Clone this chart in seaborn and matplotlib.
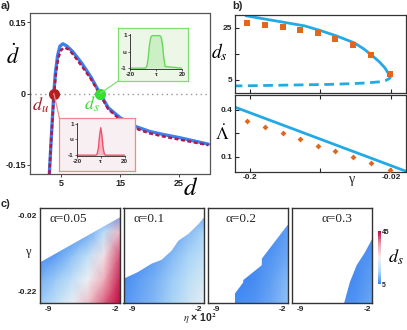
import numpy as np
import matplotlib
matplotlib.use("Agg")
import matplotlib.pyplot as plt
import seaborn as sns
from matplotlib.colors import LinearSegmentedColormap, Normalize
from matplotlib.patches import ConnectionPatch

# ---- panel a: phase line d vs d-dot
d_full = [3.0, 3.3, 3.55, 3.76, 4.0, 4.4, 4.8, 5.3, 6.0, 7.0, 8.5, 10.0, 11.6,
          13.0, 15.0, 17.5, 20.0, 22.5, 25.0, 27.5, 30.0]
dd_full = [-0.17, -0.10, -0.045, 0.0, 0.04, 0.08, 0.100, 0.105, 0.100, 0.088,
           0.064, 0.036, 0.0, -0.030, -0.051, -0.069, -0.080, -0.087, -0.093,
           -0.100, -0.107]
d_approx = [3.0, 3.3, 3.6, 3.8, 4.1, 4.5, 5.0, 5.6, 6.3, 7.2, 8.5, 10.0, 11.5,
            13.0, 15.0, 17.5, 20.0, 22.5, 25.0, 27.5, 30.0]
dd_approx = [-0.17, -0.10, -0.04, 0.0, 0.04, 0.075, 0.092, 0.097, 0.093, 0.080,
             0.058, 0.032, 0.0, -0.033, -0.055, -0.073, -0.084, -0.091, -0.097,
             -0.103, -0.109]
d_u, d_s = 3.76, 11.6

# insets: pulse profiles u(tau)
tau_s = [-20, -8, -7, -6, -5, -4, -3, 3, 4, 5, 6, 7, 20]
u_s = [-1, -1, -0.9, -0.4, 0.4, 0.85, 0.95, 0.95, 0.85, 0.4, -0.4, -0.9, -1]
tau_u = [-20, -4, -3, -2, -1, 0, 1, 2, 3, 4, 20]
u_u = [-1, -1, -0.92, -0.55, 0.25, 0.75, 0.25, -0.55, -0.92, -1, -1]

# ---- panel b
gam_up = [-0.205, -0.18, -0.155, -0.13, -0.11, -0.09, -0.067, -0.055, -0.045,
          -0.035, -0.028, -0.024, -0.021]
ds_up = [29.7, 28.4, 27.1, 25.8, 24.0, 22.0, 19.3, 17.0, 14.6, 12.0, 9.7, 7.8, 6.0]
gam_low = [-0.222, -0.18, -0.14, -0.10, -0.07, -0.05, -0.035, -0.027, -0.023, -0.021]
ds_low = [2.7, 2.9, 3.1, 3.3, 3.6, 3.9, 4.3, 4.8, 5.4, 6.0]
gam_sim = [-0.204, -0.181, -0.158, -0.136, -0.113, -0.091, -0.068, -0.045, -0.022]
ds_sim = [27.0, 26.3, 25.4, 24.2, 23.0, 20.9, 18.3, 14.5, 7.3]
lam_sim = [0.329, 0.293, 0.250, 0.214, 0.171, 0.135, 0.096, 0.057, 0.016]
gam_lam = [-0.22, 0.0]
lam_lin = [0.42, 0.005]

# ---- panel c: d_s over (eta*10^2, gamma) for four alpha values
alphas = ["α=0.05", "α=0.1", "α=0.2", "α=0.3"]
eta_grid = [-9.9, -8.22, -6.54, -4.86, -3.18, -1.5]
gam_grid = [-0.25, -0.1875, -0.125, -0.0625, 0.0]
ds_a005 = [[13, 17, 23, 31, 39, 46],
           [10, 13, 17, 24, 33, 43],
           [6, 8, 12, 17, 27, 40],
           [5, 5, 6, 9, 16, 32],
           [5, 5, 5, 5, 5, 6]]
ds_a01 = [[7, 9, 11, 14, 18, 23],
          [6, 8, 10, 13, 16, 20],
          [5, 6, 8, 11, 14, 17],
          [5, 5, 6, 8, 11, 14],
          [5, 5, 5, 5, 6, 8]]
ds_a02 = [[5, 5, 6, 7, 9, 12],
          [5, 5, 5, 6, 8, 11],
          [5, 5, 5, 6, 7, 9],
          [5, 5, 5, 5, 6, 8],
          [5, 5, 5, 5, 5, 6]]
ds_a03 = [[5, 5, 5, 6, 7, 9],
          [5, 5, 5, 5, 6, 8],
          [5, 5, 5, 5, 6, 7],
          [5, 5, 5, 5, 5, 6],
          [5, 5, 5, 5, 5, 5]]
# existence boundary (white above)
bnd_eta = [[-9.9, -1.5],
           [-9.9, -8.44, -7.0, -5.96, -4.9, -4.19, -3.13, -2.06, -1.5],
           [-9.9, -7.07, -7.07, -6.2, -6.2, -4.25, -4.25, -1.55, -1.5],
           [-9.9, -4.47, -3.84, -3.13, -2.25, -1.5]]
bnd_gam = [[-0.141, -0.023],
           [-0.184, -0.167, -0.145, -0.135, -0.111, -0.085, -0.067, -0.041, -0.024],
           [-0.25, -0.25, -0.223, -0.194, -0.188, -0.149, -0.132, -0.044, -0.044],
           [-0.25, -0.25, -0.193, -0.149, -0.115, -0.08]]

sns.set_theme(style="ticks")
plt.rcParams["font.family"] = ["Liberation Sans", "DejaVu Sans"]
plt.rcParams["mathtext.fontset"] = "stix"

W, H = 407, 330
fig = plt.figure(figsize=(W / 100, H / 100), dpi=100)


def box(x0, y0, x1, y1):
    return [x0 / W, 1 - y1 / H, (x1 - x0) / W, (y1 - y0) / H]


def fx(x):
    return x / W


def fy(y):
    return 1 - y / H


def mtext(x, y, s, size, color="black"):
    fig.text(fx(x), fy(y), s, fontsize=size, color=color, ha="center", va="center")


def bold_ticks(a):
    for t in a.get_xticklabels() + a.get_yticklabels():
        t.set_fontweight("bold")


BLUE = "#3a80ee"
CRIM = "#b0194a"
SKY = "#23aae6"
ORANGE = "#e0681c"

# ---------------- panel a
ax = fig.add_axes(box(30.5, 13, 209.5, 174))
ax.axhline(0, color="#999999", lw=1.0, ls=(0, (1, 2.5)))
sns.lineplot(x=d_full, y=dd_full, ax=ax, color=BLUE, lw=2.4, sort=False, estimator=None)
sns.lineplot(x=d_approx, y=dd_approx, ax=ax, color=CRIM, lw=1.8, sort=False,
             estimator=None, linestyle=(0, (1.6, 1.0)))
ax.plot([d_u], [0], "o", color="#b3201f", ms=7, zorder=5)
ax.plot([d_s], [0], "o", color="#33e033", ms=7, zorder=5)
ax.set_xlim(-0.2, 30.2)
ax.set_ylim(-0.17, 0.17)
ax.set_xticks([5, 15, 25])
ax.set_yticks([-0.15, 0, 0.15])
ax.set_yticklabels(["-0.15", "0", "0.15"])
ax.tick_params(labelsize=6.5, length=2, width=0.6, pad=1.5, colors="#222222")
bold_ticks(ax)
for s in ax.spines.values():
    s.set_color("#555555")
    s.set_linewidth(0.9)
mtext(13, 57, r"$\dot{d}$", 16)
mtext(191, 188, r"$d$", 18)
mtext(40, 105, r"$d_u$", 13, "#a31f25")
mtext(92, 104, r"$d_s$", 13, "#3ddc3a")
fig.text(0.002, 0.998, "a)", fontsize=8, fontweight="bold", ha="left", va="top")


def inset(bx, ix, bg, edge, line, fill, tau, u):
    b = fig.add_axes(box(*bx))
    b.set_facecolor(bg)
    b.set_xticks([])
    b.set_yticks([])
    for s in b.spines.values():
        s.set_color(edge)
        s.set_linewidth(0.9)
    a = fig.add_axes(box(*ix))
    a.patch.set_alpha(0)
    a.plot(tau, u, color=line, lw=1.0)
    a.fill_between(tau, u, -1, color=fill, alpha=0.6, lw=0)
    a.set_xlim(-20, 20)
    a.set_ylim(-1.02, 1.05)
    a.set_xticks([-20, 0, 20])
    a.set_xticklabels(["-20", "τ", "20"])
    a.set_yticks([-1, 0, 1])
    a.set_yticklabels(["-1", "u", "1"])
    a.tick_params(labelsize=4.5, length=1.5, width=0.5, pad=0.8)
    bold_ticks(a)
    for s in ["top", "right"]:
        a.spines[s].set_visible(False)
    for s in ["left", "bottom"]:
        a.spines[s].set_linewidth(0.6)
        a.spines[s].set_color("#222222")
    return b


inset((118, 28, 188, 81), (130, 34, 182, 68.5), "#ecf7e8", "#80dc70", "#66d85a",
      "#b8ebb0", tau_s, u_s)
inset((59, 118, 134.5, 170.5), (77, 123, 124.5, 155.5), "#f8eff2", "#f08890",
      "#f2506a", "#f490a8", tau_u, u_u)
for (px, py), dval, col in [((118.3, 81), d_s, "#80dc70"), ((59.5, 118.3), d_u, "#f08890")]:
    con = ConnectionPatch(xyA=(dval, 0), coordsA=ax.transData,
                          xyB=(fx(px), fy(py)), coordsB=fig.transFigure,
                          color=col, lw=0.9, zorder=1)
    fig.add_artist(con)

# ---------------- panel b
b1 = fig.add_axes(box(235, 15, 406, 93))
sns.lineplot(x=gam_up, y=ds_up, ax=b1, color=SKY, lw=2.0, sort=False, estimator=None)
sns.lineplot(x=gam_low, y=ds_low, ax=b1, color=SKY, lw=2.0, sort=False, estimator=None,
             linestyle=(0, (3.5, 2.0)))
sns.scatterplot(x=gam_sim, y=ds_sim, ax=b1, color=ORANGE, marker="s", s=14,
                linewidth=0, zorder=4)
b1.set_xlim(-0.219, -0.001)
b1.set_ylim(0, 30)
b1.set_xticks([-0.2, -0.11, -0.02])
b1.set_yticks([5, 15, 25])
b1.set_yticklabels(["5", "", "25"])
b1.tick_params(labelbottom=False, direction="in", length=3, width=0.8, labelsize=6,
               pad=2, top=False)

b2 = fig.add_axes(box(235, 94.7, 406, 171.7))
sns.lineplot(x=gam_lam, y=lam_lin, ax=b2, color=SKY, lw=2.0, sort=False, estimator=None)
sns.scatterplot(x=gam_sim, y=lam_sim, ax=b2, color=ORANGE, marker="D", s=9,
                linewidth=0, zorder=4)
b2.set_xlim(-0.219, -0.001)
b2.set_ylim(0.004, 0.498)
b2.set_xticks([-0.2, -0.11, -0.02])
b2.set_xticklabels(["-0.2", "", "-0.02"])
b2.set_yticks([0.1, 0.25, 0.4])
b2.set_yticklabels(["0.1", "", "0.4"])
b2.tick_params(direction="in", length=3, width=0.8, labelsize=6, pad=2, top=True)
for a in (b1, b2):
    bold_ticks(a)
    for s in a.spines.values():
        s.set_color("#333333")
        s.set_linewidth(0.9)
mtext(219, 52, r"$d_s$", 14)
mtext(222, 134, r"$\dot{\Lambda}$", 13)
fig.text(fx(352), fy(180), "γ", fontsize=10, ha="center", va="center",
         family="Liberation Serif")
fig.text(fx(232), 0.998, "b)", fontsize=8, fontweight="bold", ha="left", va="top")

# ---------------- panel c
cmap = LinearSegmentedColormap.from_list(
    "ds", ["#3d85f2", "#b4dcf7", "#f4f1f1", "#ec9fae", "#c0063c"])
norm = Normalize(5, 45)
E, G = np.meshgrid(eta_grid, gam_grid)
lefts = [40, 123.5, 207.5, 291.7]
alpha_x = [0.12, 0.12, 0.23, 0.37]
for i, (Z, lab) in enumerate(zip([ds_a005, ds_a01, ds_a02, ds_a03], alphas)):
    c = fig.add_axes(box(lefts[i], 207.7, lefts[i] + 80, 303.3))
    mesh = c.pcolormesh(E, G, np.array(Z, float), cmap=cmap, norm=norm,
                        shading="gouraud", rasterized=True)
    c.fill_between(bnd_eta[i], bnd_gam[i], 0.0, color="white", lw=0, zorder=2)
    c.set_xlim(-9.9, -1.5)
    c.set_ylim(-0.25, 0.0)
    c.set_xticks([-9, -5.5, -2])
    c.set_xticklabels(["-9", "", "-2"])
    c.set_yticks([-0.22, -0.12, -0.02])
    if i == 0:
        c.set_yticklabels(["-0.22", "", "-0.02"])
    else:
        c.set_yticklabels([])
    c.tick_params(direction="in", length=3, width=0.8, labelsize=6, pad=2,
                  right=True, color="#333333")
    bold_ticks(c)
    for s in c.spines.values():
        s.set_color("#333333")
        s.set_linewidth(1.0)
        s.set_zorder(5)
    c.text(alpha_x[i], 0.88, lab, transform=c.transAxes, fontsize=9.5,
           family="Liberation Serif", va="center", zorder=6)

cax = fig.add_axes(box(377.7, 231, 380.5, 284.3))
cb = fig.colorbar(mesh, cax=cax, ticks=[5, 45])
cb.outline.set_visible(False)
cax.tick_params(length=0, labelsize=5, pad=1)
bold_ticks(cax)
mtext(396, 257, r"$d_s$", 13)
fig.text(fx(28), fy(252), "γ", fontsize=9, ha="center", va="center",
         family="Liberation Serif")
fig.text(fx(200), fy(319), r"$\eta$" + " × 10$^\\mathbf{2}$", fontsize=7.5,
         fontweight="bold", ha="center", va="center")
fig.text(0.002, fy(199), "c)", fontsize=8, fontweight="bold", ha="left", va="top")

fig.savefig("out.png", dpi=100)
